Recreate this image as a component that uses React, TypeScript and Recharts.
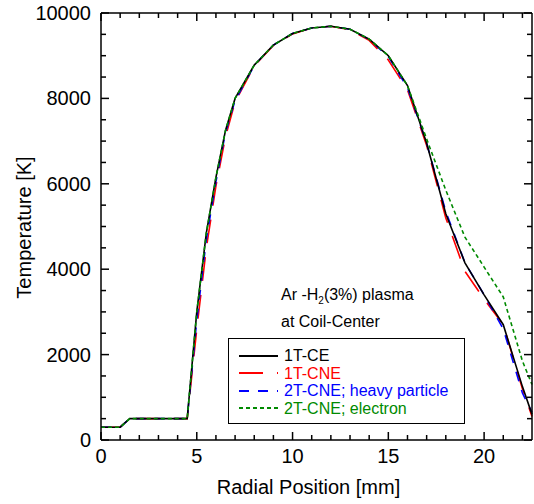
import { Legend, Line, LineChart, XAxis, YAxis } from 'recharts';

// radial position [mm] and temperature [K]
const radius = [0, 1, 1.5, 4.5, 5, 5.5, 6, 6.5, 7, 8, 9, 10, 11, 12, 13, 14, 15, 16, 17, 18, 19, 20, 21, 22, 22.5];
const temp1TCE = [300, 300, 500, 500, 3000, 4850, 6150, 7250, 8000, 8780, 9250, 9520, 9650, 9690, 9620, 9390, 9000, 8300, 6950, 5300, 4150, 3400, 2700, 1250, 600];
const temp1TCNE = [300, 300, 500, 500, 2600, 4500, 5950, 7100, 7920, 8760, 9240, 9510, 9650, 9690, 9610, 9360, 8900, 8200, 6900, 5200, 3950, 3300, 2700, 1200, 550];
const temp2THeavy = [300, 300, 500, 500, 2800, 4700, 6050, 7200, 7950, 8770, 9250, 9520, 9650, 9690, 9620, 9380, 8980, 8250, 6950, 5350, 4150, 3400, 2600, 1100, 650];
const temp2TElectron = [300, 300, 500, 500, 3000, 4850, 6150, 7250, 8000, 8780, 9250, 9520, 9650, 9690, 9620, 9390, 9000, 8300, 7050, 5850, 4750, 4050, 3350, 1850, 1300];

const xTicks = [0, 1, 2, 3, 4, 5, 6, 7, 8, 9, 10, 11, 12, 13, 14, 15, 16, 17, 18, 19, 20, 21, 22];
const yTicks = [0, 500, 1000, 1500, 2000, 2500, 3000, 3500, 4000, 4500, 5000, 5500, 6000, 6500, 7000, 7500, 8000, 8500, 9000, 9500, 10000];

const data = radius.map((r, i) => ({
  r,
  ce: temp1TCE[i],
  cne: temp1TCNE[i],
  heavy: temp2THeavy[i],
  electron: temp2TElectron[i],
}));

const SERIES = [
  { key: 'cne', name: '1T-CNE', color: '#ff0000', dash: '24 14' },
  { key: 'heavy', name: '2T-CNE; heavy particle', color: '#0000ff', dash: '10 9' },
  { key: 'ce', name: '1T-CE', color: '#000000', dash: undefined },
  { key: 'electron', name: '2T-CNE; electron', color: '#008a00', dash: '4 3' },
];
const LEGEND_ORDER = ['ce', 'cne', 'heavy', 'electron'];

const FONT = '"Liberation Sans", Arial, Helvetica, sans-serif';
const MAJOR = 8;
const MINOR = 5;

const BottomTick = ({ x, y, payload }: any) => {
  const major = payload.value % 5 === 0;
  return (
    <g>
      <line x1={x} y1={y} x2={x} y2={y - (major ? MAJOR : MINOR)} stroke="#000" strokeWidth={1.5} />
      {major && (
        <text x={x} y={y + 23} textAnchor="middle" fontSize={20} fill="#000">
          {payload.value}
        </text>
      )}
    </g>
  );
};

const TopTick = ({ x, y, payload }: any) => (
  <line x1={x} y1={y} x2={x} y2={y + (payload.value % 5 === 0 ? MAJOR : MINOR)} stroke="#000" strokeWidth={1.5} />
);

const LeftTick = ({ x, y, payload }: any) => {
  const major = payload.value % 2000 === 0;
  return (
    <g>
      <line x1={x} y1={y} x2={x + (major ? MAJOR : MINOR)} y2={y} stroke="#000" strokeWidth={1.5} />
      {major && (
        <text x={x - 10} y={y + 7} textAnchor="end" fontSize={20} fill="#000">
          {payload.value}
        </text>
      )}
    </g>
  );
};

const RightTick = ({ x, y, payload }: any) => (
  <line x1={x} y1={y} x2={x - (payload.value % 2000 === 0 ? MAJOR : MINOR)} y2={y} stroke="#000" strokeWidth={1.5} />
);

const LegendBox = () => (
  <div style={{ fontFamily: FONT, color: '#000' }}>
    <div style={{ paddingLeft: 53, fontSize: 16, lineHeight: '27px' }}>
      <div>
        Ar -H<sub style={{ fontSize: 10, verticalAlign: -4, lineHeight: 0 }}>2</sub>(3%) plasma
      </div>
      <div>at Coil-Center</div>
    </div>
    <div
      style={{
        marginTop: 3,
        border: '1.5px solid #000',
        width: 237,
        boxSizing: 'border-box',
        height: 86,
        padding: '8px 0 0 10px',
        fontSize: 16,
        lineHeight: '17.5px',
      }}
    >
      {LEGEND_ORDER.map((k) => {
        const s = SERIES.find((d) => d.key === k)!;
        return (
          <div key={k} style={{ display: 'flex', alignItems: 'center', whiteSpace: 'nowrap' }}>
            <svg width={39} height={6} style={{ display: 'block' }}>
              <line x1={0} y1={3} x2={39} y2={3} stroke={s.color} strokeWidth={2} strokeDasharray={s.dash} />
            </svg>
            <span style={{ marginLeft: 6, color: s.color }}>{s.name}</span>
          </div>
        );
      })}
    </div>
  </div>
);

export default function App() {
  return (
    <div style={{ position: 'absolute', left: 0, top: 0, background: '#fff' }}>
      <LineChart
        width={534}
        height={504}
        data={data}
        margin={{ top: 12, right: 1, bottom: 0, left: 0 }}
        style={{ fontFamily: FONT }}
      >
        <XAxis
          dataKey="r"
          type="number"
          domain={[0, 22.5]}
          ticks={xTicks}
          interval={0}
          height={64}
          tickSize={0}
          tickMargin={0}
          tickLine={false}
          tick={<BottomTick />}
          axisLine={{ stroke: '#000', strokeWidth: 1.5 }}
          label={({ viewBox }: any) => (
            <text
              x={viewBox.x + viewBox.width / 2 - 8}
              y={viewBox.y + 54}
              textAnchor="middle"
              fontSize={20}
              fill="#000"
            >
              Radial Position [mm]
            </text>
          )}
        />
        {/* mirrored frame axes: a zero-size axis is not drawn, so they get 1px */}
        <XAxis
          xAxisId="top"
          orientation="top"
          dataKey="r"
          type="number"
          domain={[0, 22.5]}
          allowDataOverflow
          ticks={xTicks}
          interval={0}
          height={1}
          tickSize={0}
          tickMargin={0}
          tickLine={false}
          tick={<TopTick />}
          axisLine={{ stroke: '#000', strokeWidth: 1.5 }}
        />
        <YAxis
          type="number"
          domain={[0, 10000]}
          ticks={yTicks}
          interval={0}
          width={101}
          tickSize={0}
          tickMargin={0}
          tickLine={false}
          tick={<LeftTick />}
          axisLine={{ stroke: '#000', strokeWidth: 1.5 }}
          label={({ viewBox }: any) => {
            const cx = viewBox.x + 24;
            const cy = viewBox.y + viewBox.height / 2 + 1;
            return (
              <text
                x={cx}
                y={cy}
                transform={`rotate(-90, ${cx}, ${cy})`}
                textAnchor="middle"
                dominantBaseline="central"
                fontSize={20}
                fill="#000"
              >
                Temperature [K]
              </text>
            );
          }}
        />
        <YAxis
          yAxisId="right"
          orientation="right"
          type="number"
          domain={[0, 10000]}
          allowDataOverflow
          ticks={yTicks}
          interval={0}
          width={1}
          tickSize={0}
          tickMargin={0}
          tickLine={false}
          tick={<RightTick />}
          axisLine={{ stroke: '#000', strokeWidth: 1.5 }}
        />
        <Line
          xAxisId="top"
          yAxisId="right"
          dataKey="ce"
          stroke="none"
          dot={false}
          activeDot={false}
          legendType="none"
          isAnimationActive={false}
        />
        {SERIES.map((s) => (
          <Line
            key={s.key}
            type="linear"
            dataKey={s.key}
            name={s.name}
            stroke={s.color}
            strokeWidth={1.6}
            strokeDasharray={s.dash}
            dot={false}
            activeDot={false}
            isAnimationActive={false}
          />
        ))}
        <Legend
          layout="vertical"
          align="center"
          verticalAlign="middle"
          content={<LegendBox />}
          wrapperStyle={{ left: 228, top: 281, width: 240 }}
        />
      </LineChart>
    </div>
  );
}
